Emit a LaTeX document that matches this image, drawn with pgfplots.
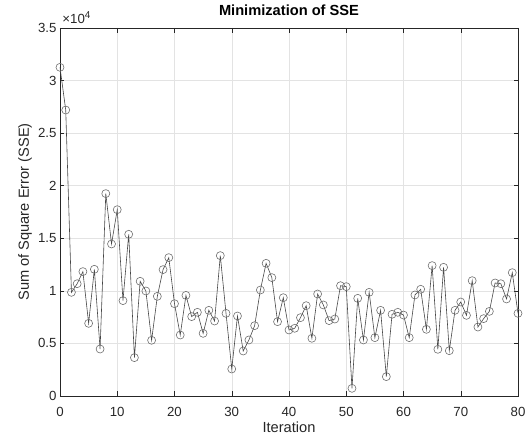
\documentclass[border=0pt]{standalone}
\usepackage{fontspec}
\setmainfont{Liberation Sans}
\usepackage{pgfplots}
\pgfplotsset{compat=1.18}
\definecolor{axgray}{RGB}{38,38,38}
\definecolor{linegray}{RGB}{70,70,70}
\definecolor{markgray}{RGB}{110,110,110}

\begin{document}
\begin{tikzpicture}
\begin{axis}[
  scale only axis,
  width=458bp,
  height=368bp,
  xmin=0, xmax=80,
  ymin=0, ymax=35000,
  xtick={0,10,...,80},
  ytick={0,5000,...,35000},
  yticklabels={0,0.5,1,1.5,2,2.5,3,3.5},
  scaled y ticks=false,
  /pgf/number format/assume math mode=true,
  tick label style={font=\fontsize{13.3}{15}\selectfont, text=axgray},
  xticklabel style={anchor=base, yshift=-20bp},
  label style={font=\fontsize{14.7}{17}\selectfont, text=axgray},
  title style={font=\fontsize{14.7}{17}\selectfont\bfseries,
    at={(axis description cs:0.5,1.018)}, anchor=base},
  title={Minimization of SSE},
  xlabel={Iteration},
  ylabel={Sum of Square Error (SSE)},
  xlabel style={at={(axis description cs:0.5,-0.0992)}, anchor=base},
  ylabel style={at={(axis description cs:-0.0677,0.5)}, anchor=base},
  grid=major,
  major grid style={draw=gray!22, line width=0.5pt},
  axis line style={draw=axgray, line width=0.6pt},
  tick style={draw=axgray, line width=0.5pt},
  tick align=inside,
  major tick length=4.5bp,
  clip=false,
]
\addplot[linegray, line width=0.6pt, mark=o, mark size=4bp,
  mark options={draw=markgray, line width=0.6pt}]
  coordinates {
  (0,31260) (1,27200) (2,9860) (3,10680) (4,11830) (5,6910) (6,12050) (7,4470)
  (8,19250) (9,14460) (10,17720) (11,9070) (12,15380) (13,3650) (14,10910)
  (15,9990) (16,5300) (17,9480) (18,12020) (19,13160) (20,8780) (21,5800)
  (22,9570) (23,7550) (24,7960) (25,5960) (26,8150) (27,7130) (28,13350)
  (29,7860) (30,2570) (31,7610) (32,4280) (33,5330) (34,6690) (35,10080)
  (36,12620) (37,11260) (38,7070) (39,9350) (40,6280) (41,6440) (42,7450)
  (43,8590) (44,5490) (45,9700) (46,8660) (47,7170) (48,7320) (49,10490)
  (50,10400) (51,730) (52,9290) (53,5330) (54,9860) (55,5550) (56,8150)
  (57,1840) (58,7770) (59,7960) (60,7700) (61,5550) (62,9610) (63,10150)
  (64,6340) (65,12400) (66,4440) (67,12240) (68,4310) (69,8150) (70,8940)
  (71,7670) (72,10970) (73,6560) (74,7360) (75,8050) (76,10750) (77,10680)
  (78,9230) (79,11730) (80,7860)
  };
\node[anchor=base west, font=\fontsize{13.3}{15}\selectfont, text=axgray, inner sep=0pt]
  at (rel axis cs:0.005,1.011)
  {×10\raisebox{5bp}{\fontsize{10}{12}\selectfont 4}};
\end{axis}
\pgfresetboundingbox
\path[use as bounding box] (-60bp,-45bp) rectangle (471bp,396bp);
\end{tikzpicture}
\end{document}
